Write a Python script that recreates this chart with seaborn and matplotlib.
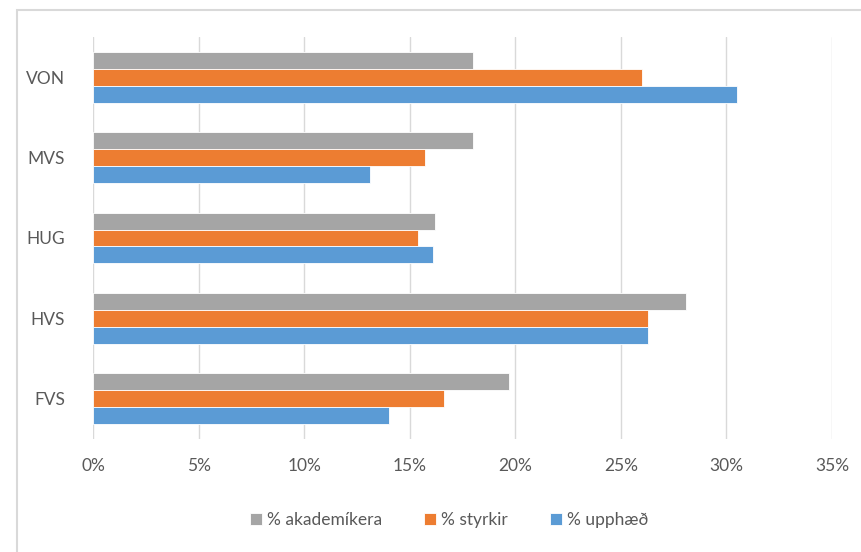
import pandas as pd
import matplotlib.pyplot as plt
import seaborn as sns
from matplotlib.ticker import PercentFormatter
from matplotlib.patches import Rectangle

# values (fractions)
svid = ["VON", "MVS", "HUG", "HVS", "FVS"]
akademikera = [0.180, 0.180, 0.162, 0.281, 0.197]
styrkir = [0.260, 0.157, 0.154, 0.263, 0.166]
upphaed = [0.305, 0.131, 0.161, 0.263, 0.140]
series = ["% akademíkera", "% styrkir", "% upphæð"]
colors = ["#A5A5A5", "#ED7D31", "#5B9BD5"]

data = pd.DataFrame({
    "svid": svid * 3,
    "hlutfall": akademikera + styrkir + upphaed,
    "rod": [s for s in series for _ in svid],
})

sns.set_style("white")
plt.rcParams["font.family"] = ["Lato", "DejaVu Sans"]

fig = plt.figure(figsize=(8.62, 5.52), dpi=100)
ax = fig.add_axes([0.1079, 0.2047, 0.8573, 0.7283])

sns.barplot(data=data, y="svid", x="hlutfall", hue="rod", order=svid,
            hue_order=series, palette=colors, saturation=1, orient="h", width=0.63,
            errorbar=None, edgecolor="white", linewidth=0.6, ax=ax, zorder=3)

ax.set_xlim(0, 0.35)
ax.set_xticks([0, 0.05, 0.10, 0.15, 0.20, 0.25, 0.30, 0.35])
ax.xaxis.set_major_formatter(PercentFormatter(1.0, decimals=0))
ax.grid(axis="x", color="#D9D9D9", linewidth=1.0, zorder=0)
ax.set_axisbelow(True)
for s in ax.spines.values():
    s.set_visible(False)
ax.tick_params(axis="both", length=0, labelsize=12.5, colors="#595959")
ax.tick_params(axis="x", pad=14)
ax.tick_params(axis="y", pad=20)
ax.set_xlabel("")
ax.set_ylabel("")

ax.legend(loc="center", bbox_to_anchor=(0.521, 0.058), bbox_transform=fig.transFigure,
          ncol=3, frameon=False, fontsize=12.5, handlelength=0.7, handleheight=0.7,
          handletextpad=0.3, columnspacing=2.4, labelcolor="#595959")

# chart frame (only top and left edges are visible in the crop)
fig.patches.append(Rectangle((17 / 862, -0.05), 1.1, 1 - 10 / 552 + 0.05,
                             transform=fig.transFigure, fill=False,
                             edgecolor="#D9D9D9", linewidth=1.5))

plt.savefig("out.png", dpi=100)
